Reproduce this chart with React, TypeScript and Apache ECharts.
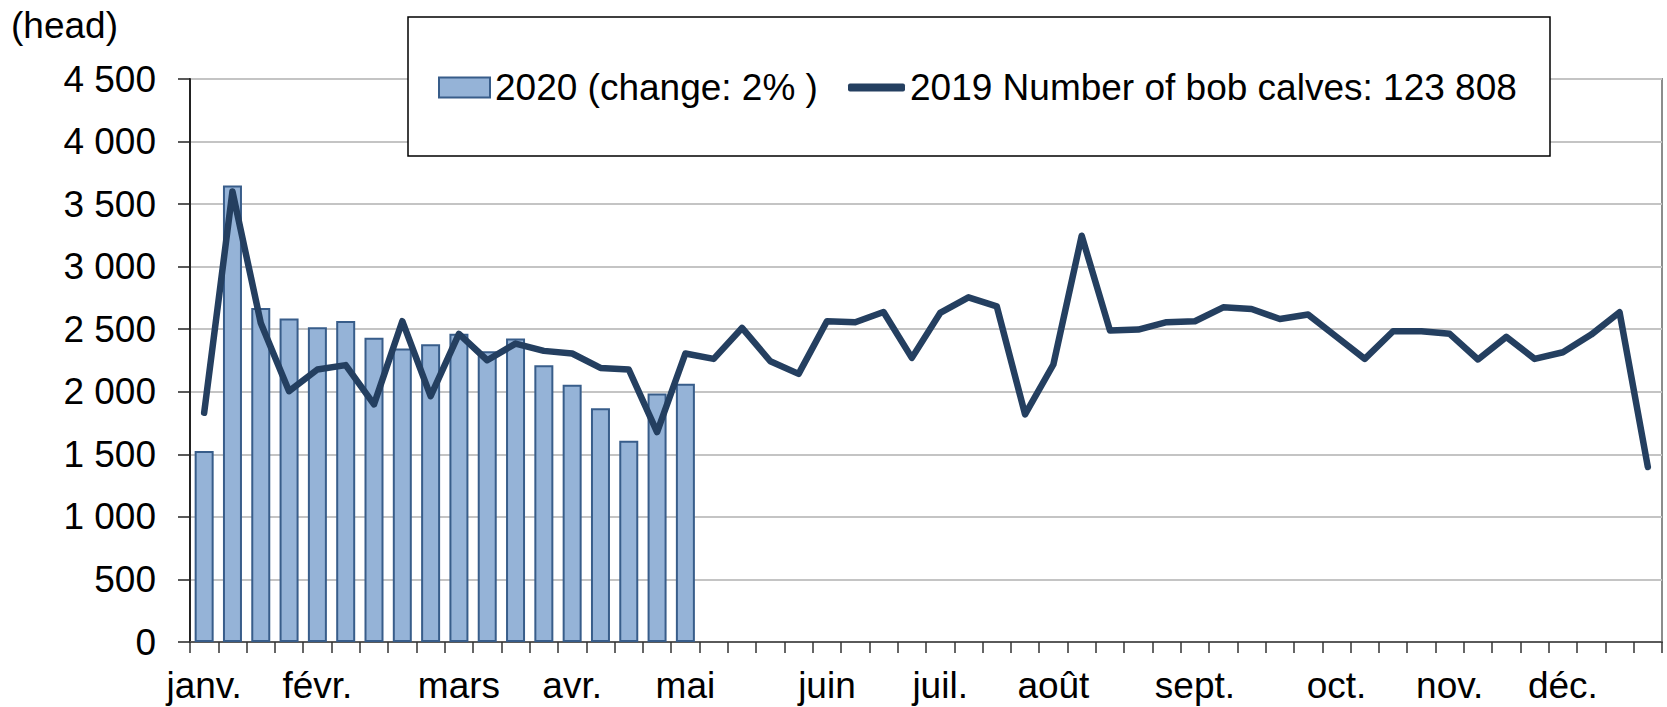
import React, { useEffect, useRef } from "react";
import * as echarts from "echarts";

// Week categories (52 weeks) and month labels placed at the first week of each month
const weeks = Array.from({ length: 52 }, (_, i) => `S${i + 1}`);
const monthNames = ["janv.", "févr.", "mars", "avr.", "mai", "juin", "juil.", "août", "sept.", "oct.", "nov.", "déc."];
const monthFirstWeek = [0, 4, 9, 13, 17, 22, 26, 30, 35, 40, 44, 48];

// 2020 weekly values (bars)
const calves2020 = [1526, 3649, 2670, 2585, 2516, 2566, 2431, 2346, 2380, 2463, 2324, 2425, 2213, 2056, 1869, 1609, 1986, 2064];

// 2019 weekly values (line)
const calves2019 = [
  1832, 3601, 2550, 2005, 2178, 2213, 1899, 2564, 1965, 2463,
  2252, 2385, 2327, 2306, 2191, 2178, 1678, 2306, 2263, 2510,
  2244, 2143, 2564, 2556, 2638, 2271, 2630, 2755, 2683, 1819,
  2218, 3247, 2489, 2497, 2556, 2564, 2675, 2662, 2582, 2617,
  2440, 2263, 2484, 2484, 2463, 2258, 2439, 2263, 2316, 2457,
  2636, 1399,
];

const seriesNames = ["2020 (change: 2% )", "2019 Number of bob calves: 123 808"];
const unitLabel = "(head)";

const FONT = "'Liberation Sans', Arial, Helvetica, sans-serif";
const FS = 37;

function fmtThousands(v: number): string {
  if (v >= 1000) {
    const t = Math.floor(v / 1000);
    const r = v % 1000;
    return `${t} ${String(r).padStart(3, "0")}`;
  }
  return String(v);
}

export default function App() {
  const ref = useRef<HTMLDivElement>(null);

  useEffect(() => {
    if (!ref.current) return;
    const chart = echarts.init(ref.current, null, { renderer: "svg" });
    const labelMap: Record<number, string> = {};
    monthFirstWeek.forEach((w, i) => (labelMap[w] = monthNames[i]));

    chart.setOption({
      animation: false,
      backgroundColor: "#ffffff",
      textStyle: { fontFamily: FONT },
      grid: {
        left: 190,
        right: 5,
        top: 79,
        bottom: 65,
        show: true,
        borderColor: "#8c8c8c",
        borderWidth: 2,
        backgroundColor: "transparent",
      },
      legend: [
        {
          data: [seriesNames[0]],
          left: 438,
          top: 69,
          padding: 0,
          itemWidth: 51,
          itemHeight: 20,
          itemGap: 5,
          icon: "rect",
          z: 20,
          textStyle: { fontSize: FS, color: "#000", fontFamily: FONT },
        },
        {
          data: [seriesNames[1]],
          left: 848,
          top: 69,
          padding: 0,
          itemWidth: 57,
          itemHeight: 8,
          icon: "roundRect",
          z: 20,
          textStyle: { fontSize: FS, color: "#000", fontFamily: FONT },
        },
      ],
      graphic: [
        {
          type: "rect",
          z: 10,
          shape: { x: 408, y: 17, width: 1142, height: 139 },
          style: { fill: "#ffffff", stroke: "#000000", lineWidth: 1.5 },
        },
        {
          type: "text",
          z: 10,
          x: 11,
          y: 25,
          style: {
            text: unitLabel,
            fontSize: FS,
            fontFamily: FONT,
            fill: "#000",
            verticalAlign: "middle",
            align: "left",
          },
        },
      ],
      xAxis: {
        type: "category",
        data: weeks,
        boundaryGap: true,
        axisLine: { show: true, lineStyle: { color: "#5a5a5a", width: 2 } },
        axisTick: { show: true, interval: 0, length: 11, lineStyle: { color: "#333", width: 1.5 } },
        axisLabel: {
          interval: 0,
          margin: 25,
          fontSize: FS,
          color: "#000",
          fontFamily: FONT,
          formatter: (_v: string, idx: number) => labelMap[idx] ?? "",
        },
        splitLine: { show: false },
      },
      yAxis: {
        type: "value",
        min: 0,
        max: 4500,
        interval: 500,
        axisLine: { show: true, lineStyle: { color: "#222", width: 2 } },
        axisTick: { show: true, length: 12, lineStyle: { color: "#222", width: 1.5 } },
        axisLabel: {
          margin: 34,
          fontSize: FS,
          color: "#000",
          fontFamily: FONT,
          formatter: (v: number) => fmtThousands(v),
        },
        splitLine: { show: true, lineStyle: { color: "#c4c4c4", width: 2 } },
      },
      series: [
        {
          name: seriesNames[0],
          type: "bar",
          data: calves2020,
          barWidth: 19,
          itemStyle: { color: "#95b3d7", borderColor: "#385d8a", borderWidth: 2 },
          z: 2,
        },
        {
          name: seriesNames[1],
          type: "line",
          data: calves2019,
          color: "#243f60",
          symbol: "none",
          showSymbol: false,
          lineStyle: { color: "#243f60", width: 6.5, cap: "round", join: "round" },
          itemStyle: { color: "#243f60" },
          z: 3,
        },
      ],
    });

    return () => chart.dispose();
  }, []);

  return (
    <div
      ref={ref}
      style={{ position: "absolute", left: 0, top: 0, width: 1667, height: 707 }}
    />
  );
}
